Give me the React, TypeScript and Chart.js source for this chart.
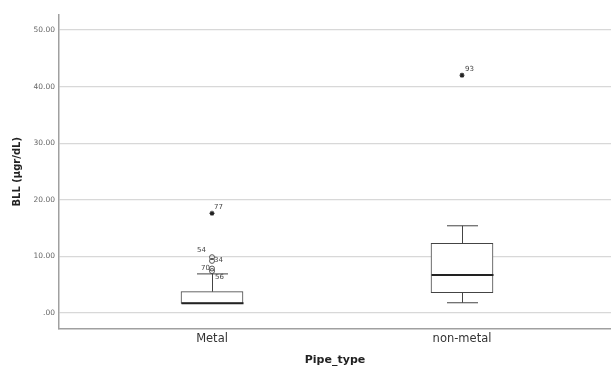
import React, { useEffect, useRef } from "react";
import { Chart, registerables } from "chart.js";

Chart.register(...registerables);

const categories = ["Metal", "non-metal"];
const categoryPos = [1, 2];
const q1 = [1.7, 3.6];
const median = [1.7, 6.7];
const q3 = [3.76, 12.3];
const whiskerLow = [1.7, 1.8];
const whiskerHigh = [6.9, 15.4];

const outlierIds = ["54", "34", "70", "56"];
const outlierValues = [9.85, 9.2, 7.85, 7.4];
const outlierGroup = [0, 0, 0, 0];

const extremeIds = ["77", "93"];
const extremeValues = [17.6, 42.0];
const extremeGroup = [0, 1];

const yTicks = [0, 10, 20, 30, 40, 50];

const FONT = "'DejaVu Sans', sans-serif";

// label placement relative to the point: dx, dy, align
const labelPlace: Record<string, [number, number, CanvasTextAlign]> = {
  "54": [-6, -7, "right"],
  "34": [2, -1, "left"],
  "70": [-2, 0, "right"],
  "56": [3, 6.5, "left"],
  "77": [2, -6.5, "left"],
  "93": [3, -6, "left"],
};

const boxPlugin = {
  id: "boxExtras",
  afterDatasetsDraw(chart: any) {
    const { ctx, scales, chartArea } = chart;
    const xs = scales.x;
    const ys = scales.y;
    ctx.save();
    ctx.strokeStyle = "#444";
    ctx.lineWidth = 1;
    const capHalf = 15.5;
    const boxHalf = 31;
    for (let i = 0; i < categories.length; i++) {
      const cx = Math.round(xs.getPixelForValue(categoryPos[i])) + 0.5;
      const yq1 = ys.getPixelForValue(q1[i]);
      const yq3 = ys.getPixelForValue(q3[i]);
      const yLo = ys.getPixelForValue(whiskerLow[i]);
      const yHi = ys.getPixelForValue(whiskerHigh[i]);
      ctx.beginPath();
      ctx.moveTo(cx, yq3);
      ctx.lineTo(cx, yHi);
      ctx.moveTo(cx - capHalf, yHi);
      ctx.lineTo(cx + capHalf, yHi);
      if (yLo - yq1 > 0.5) {
        ctx.moveTo(cx, yq1);
        ctx.lineTo(cx, yLo);
        ctx.moveTo(cx - capHalf, yLo);
        ctx.lineTo(cx + capHalf, yLo);
      }
      ctx.stroke();
      const ym = ys.getPixelForValue(median[i]);
      ctx.beginPath();
      ctx.lineWidth = 2;
      ctx.strokeStyle = "#222";
      ctx.moveTo(cx - boxHalf, ym);
      ctx.lineTo(cx + boxHalf, ym);
      ctx.stroke();
      ctx.lineWidth = 1;
      ctx.strokeStyle = "#444";
    }
    // outlier labels
    ctx.fillStyle = "#444";
    ctx.font = `7px ${FONT}`;
    ctx.textBaseline = "middle";
    const drawLabel = (id: string, g: number, v: number) => {
      const px = xs.getPixelForValue(categoryPos[g]);
      const py = ys.getPixelForValue(v);
      const p = labelPlace[id] || [3, -5, "left"];
      ctx.textAlign = p[2];
      ctx.fillText(id, px + p[0], py + p[1]);
    };
    outlierIds.forEach((id, k) => drawLabel(id, outlierGroup[k], outlierValues[k]));
    extremeIds.forEach((id, k) => drawLabel(id, extremeGroup[k], extremeValues[k]));

    // axis titles
    ctx.fillStyle = "#222";
    ctx.textAlign = "center";
    ctx.font = `bold 11px ${FONT}`;
    ctx.fillText("Pipe_type", (chartArea.left + chartArea.right) / 2, 360);
    ctx.save();
    ctx.translate(17, (chartArea.top + chartArea.bottom) / 2);
    ctx.rotate(-Math.PI / 2);
    ctx.font = `bold 10px ${FONT}`;
    ctx.fillText("BLL (µgr/dL)", 0, 0);
    ctx.restore();
    ctx.restore();
  },
};

export default function App() {
  const ref = useRef<HTMLCanvasElement | null>(null);
  useEffect(() => {
    if (!ref.current) return;
    const chart = new Chart(ref.current, {
      type: "bar",
      data: {
        datasets: [
          {
            type: "bar",
            data: categories.map((_, i) => ({ x: categoryPos[i], y: [q1[i], q3[i]] })) as any,
            backgroundColor: "#ffffff",
            borderColor: "#444",
            borderWidth: 1,
            borderSkipped: false,
            barThickness: 62,
            grouped: false,
            order: 2,
          } as any,
          {
            type: "scatter",
            data: outlierValues.map((v, k) => ({ x: categoryPos[outlierGroup[k]], y: v })),
            pointStyle: "circle",
            pointRadius: 2.5,
            borderColor: "#555",
            backgroundColor: "rgba(255,255,255,0)",
            borderWidth: 1,
            showLine: false,
            order: 1,
          } as any,
          {
            type: "scatter",
            data: extremeValues.map((v, k) => ({ x: categoryPos[extremeGroup[k]], y: v })),
            pointStyle: "star",
            pointRadius: 2.5,
            borderColor: "#222",
            borderWidth: 1.2,
            showLine: false,
            order: 1,
          } as any,
        ],
      },
      options: {
        animation: false,
        responsive: true,
        maintainAspectRatio: false,
        layout: { autoPadding: false, padding: { top: 15, right: 0, left: 0, bottom: 0 } },
        plugins: { legend: { display: false }, tooltip: { enabled: false } },
        scales: {
          x: {
            type: "linear",
            min: 0.388,
            max: 2.596,
            offset: false,
            grid: { display: false, drawTicks: false },
            border: { display: true, color: "#a0a0a0", width: 1.5 },
            afterBuildTicks: (s: any) => {
              s.ticks = categoryPos.map((v) => ({ value: v }));
            },
            afterFit: (s: any) => {
              s.height = 38.5;
            },
            ticks: {
              padding: 4,
              autoSkip: false,
              maxRotation: 0,
              color: "#333",
              font: { family: FONT, size: 11.5 },
              callback: (v: any) => {
                const i = categoryPos.indexOf(Number(v));
                return i >= 0 ? categories[i] : "";
              },
            },
          },
          y: {
            type: "linear",
            min: -2.75,
            max: 52.65,
            grid: { color: "#d8d8d8", lineWidth: 1.2, drawTicks: false },
            border: { display: true, color: "#a0a0a0", width: 1.5 },
            afterBuildTicks: (s: any) => {
              s.ticks = yTicks.map((v) => ({ value: v }));
            },
            afterFit: (s: any) => {
              s.width = 59;
            },
            ticks: {
              padding: 4,
              color: "#666",
              font: { family: FONT, size: 7.5 },
              callback: (v: any) => (Number(v) === 0 ? ".00" : Number(v).toFixed(2)),
            },
          },
        },
      },
      plugins: [boxPlugin],
    });
    return () => chart.destroy();
  }, []);
  return (
    <div style={{ position: "absolute", left: 0, top: 0, width: 611, height: 367, background: "#fff" }}>
      <canvas ref={ref} />
    </div>
  );
}
